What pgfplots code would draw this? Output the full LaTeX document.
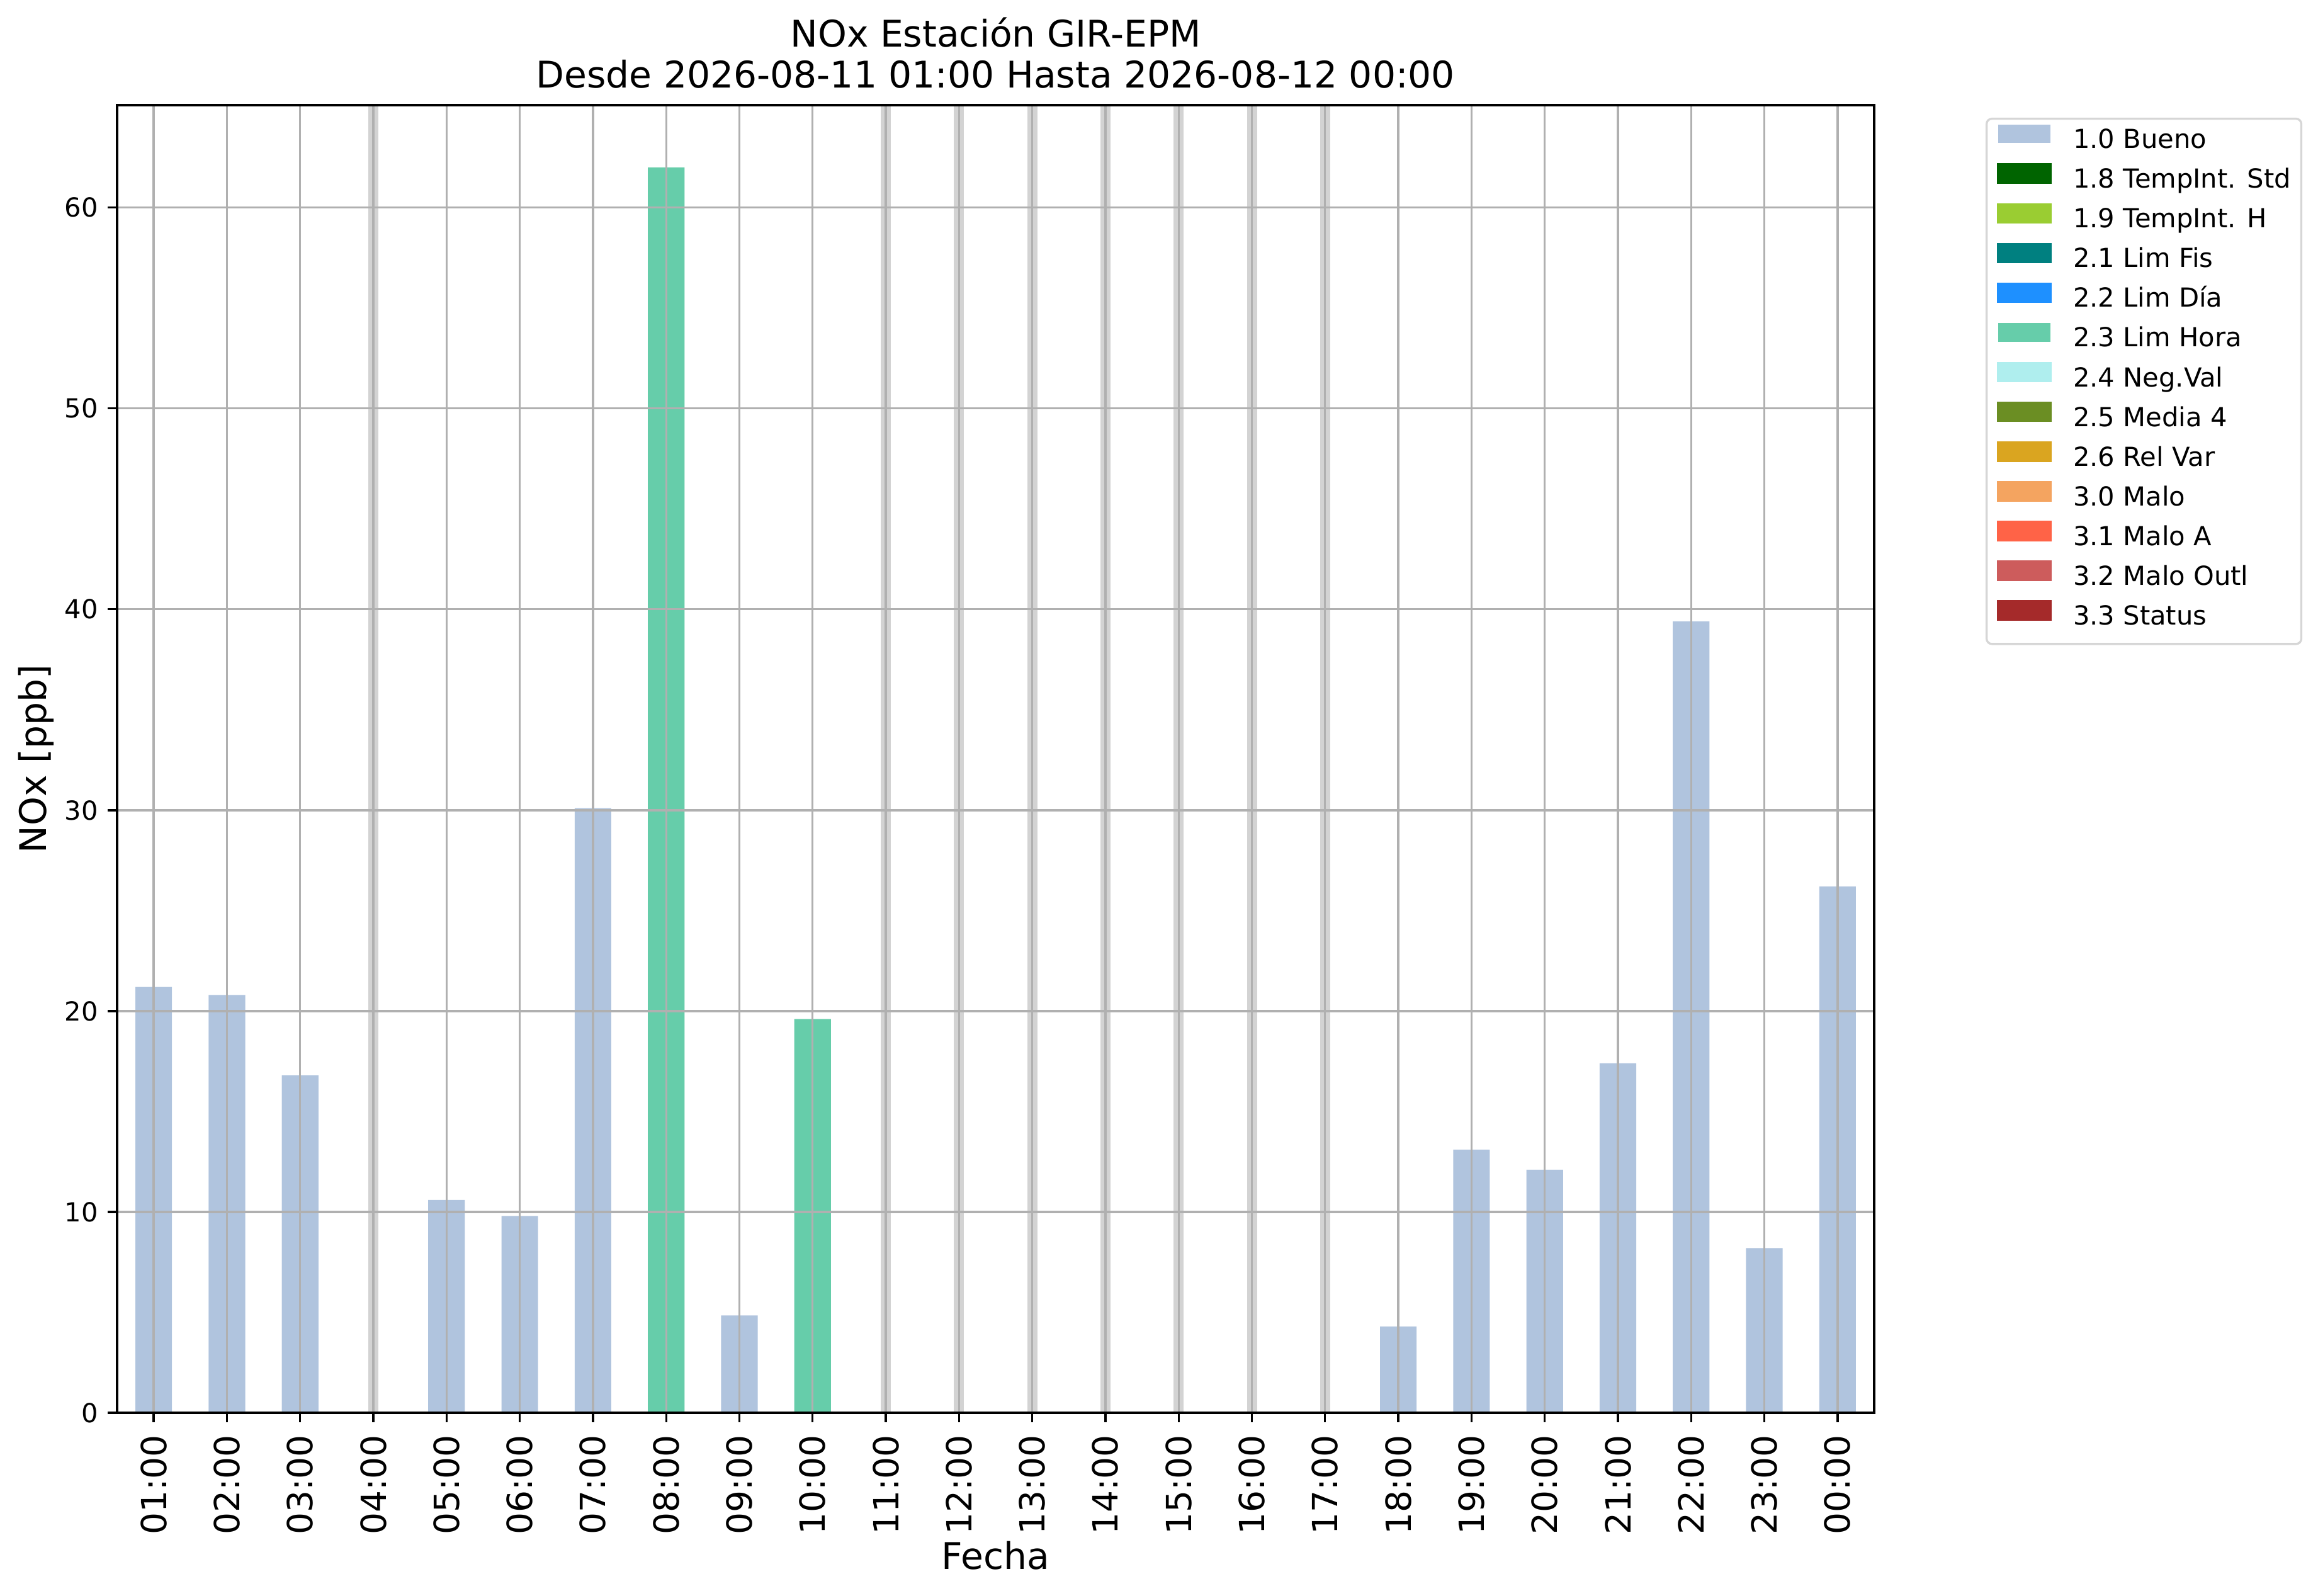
\documentclass[border=0pt]{standalone}
\usepackage{fontspec}
\setmainfont{DejaVu Sans}
\usepackage{pgfplots}
\pgfplotsset{compat=1.18}
\definecolor{bueno}{HTML}{B0C4DE}
\definecolor{tstd}{HTML}{006400}
\definecolor{th}{HTML}{9ACD32}
\definecolor{limfis}{HTML}{008080}
\definecolor{limdia}{HTML}{1E90FF}
\definecolor{limhora}{HTML}{66CDAA}
\definecolor{negval}{HTML}{AFEEEE}
\definecolor{media}{HTML}{6B8E23}
\definecolor{relvar}{HTML}{DAA520}
\definecolor{malo}{HTML}{F4A460}
\definecolor{maloa}{HTML}{FF6347}
\definecolor{malooutl}{HTML}{CD5C5C}
\definecolor{status}{HTML}{A52A2A}
\definecolor{gridgray}{HTML}{B0B0B0}
\definecolor{bandgray}{HTML}{D3D3D3}
\definecolor{legendgray}{HTML}{D6D6D6}
\begin{document}
\begin{tikzpicture}
\begin{axis}[
  name=ax,
  scale only axis, width=669.84pt, height=498.48pt,
  xmin=-0.5, xmax=23.5, ymin=0, ymax=65.1,
  xtick={0,...,23},
  xticklabels={01:00,02:00,03:00,04:00,05:00,06:00,07:00,08:00,09:00,10:00,11:00,12:00,13:00,14:00,15:00,16:00,17:00,18:00,19:00,20:00,21:00,22:00,23:00,00:00},
  ytick={0,10,20,30,40,50,60},
  grid=major, grid style={color=gridgray, line width=0.8pt},
  axis on top,
  axis line style={line width=0.8pt, black},
  tick align=outside, tick pos=left, major tick length=3.5pt,
  every tick/.style={black, line width=0.8pt},
  /pgf/number format/assume math mode=true,
  yticklabel style={font=\fontsize{10}{12}\selectfont, inner xsep=3.5pt},
  xticklabel style={font=\fontsize{13.2}{15.8}\selectfont, rotate=90, anchor=east, inner xsep=4.7pt},
  clip mode=individual,
  leg/.style={legend image code/.code={\fill[#1, sharp corners] (0pt,0pt) rectangle (19.9pt,7pt);}},
  legend cell align=left,
  legend style={at={(1.0634,0.9904)}, anchor=north west, draw=legendgray, line width=0.8pt,
    rounded corners=2pt, inner xsep=4pt, inner ysep=1.7pt, font=\fontsize{10}{12}\selectfont,
    row sep=0pt, column sep=8.3pt,
    nodes={inner sep=0pt, text height=9.56pt, text depth=5.58pt}},
]
\addplot[ycomb, draw=bandgray, line width=3.84pt, mark=none, forget plot]
  coordinates {(3,70) (10,70) (11,70) (12,70) (13,70) (14,70) (15,70) (16,70)};
\addplot[ybar, bar width=0.5, bar shift=0pt, fill=bueno, draw=none, leg=bueno] coordinates {
  (0,21.2) (1,20.8) (2,16.8) (4,10.6) (5,9.8) (6,30.1) (8,4.85)
  (17,4.3) (18,13.1) (19,12.1) (20,17.4) (21,39.4) (22,8.2) (23,26.2)};
\addlegendimage{leg=tstd}
\addlegendimage{leg=th}
\addlegendimage{leg=limfis}
\addlegendimage{leg=limdia}
\addplot[ybar, bar width=0.5, bar shift=0pt, fill=limhora, draw=none, leg=limhora] coordinates {
  (7,62.0) (9,19.6)};
\addlegendimage{leg=negval}
\addlegendimage{leg=media}
\addlegendimage{leg=relvar}
\addlegendimage{leg=malo}
\addlegendimage{leg=maloa}
\addlegendimage{leg=malooutl}
\addlegendimage{leg=status}
\legend{1.0 Bueno,1.8 TempInt. Std,1.9 TempInt. H,2.1 Lim Fis,2.2 Lim Día,2.3 Lim Hora,2.4 Neg.Val,2.5 Media 4,2.6 Rel Var,3.0 Malo,3.1 Malo A,3.2 Malo Outl,3.3 Status}
\node[anchor=base, font=\fontsize{14}{16.8}\selectfont, yshift=22.08pt] at (rel axis cs:0.5,1) {NOx Estación GIR-EPM};
\node[anchor=base, font=\fontsize{14}{16.8}\selectfont, yshift=6.48pt] at (rel axis cs:0.5,1) {Desde 2026-08-11 01:00 Hasta 2026-08-12 00:00};
\node[anchor=base, font=\fontsize{14}{16.8}\selectfont, yshift=-59.52pt] at (rel axis cs:0.5,0) {Fecha};
\node[xshift=-26.88pt, rotate=90, anchor=base, font=\fontsize{14}{16.8}\selectfont] at (rel axis cs:0,0.5) {NOx [ppb]};
\end{axis}
\path (ax.south west) ++(-44.64pt,-69.6pt) rectangle (ax.north east) ++(0pt,0pt);
\path (ax.north east) ++(169.2pt,40.08pt) coordinate (tr);
\path (tr) rectangle (tr);
\end{tikzpicture}
\end{document}
